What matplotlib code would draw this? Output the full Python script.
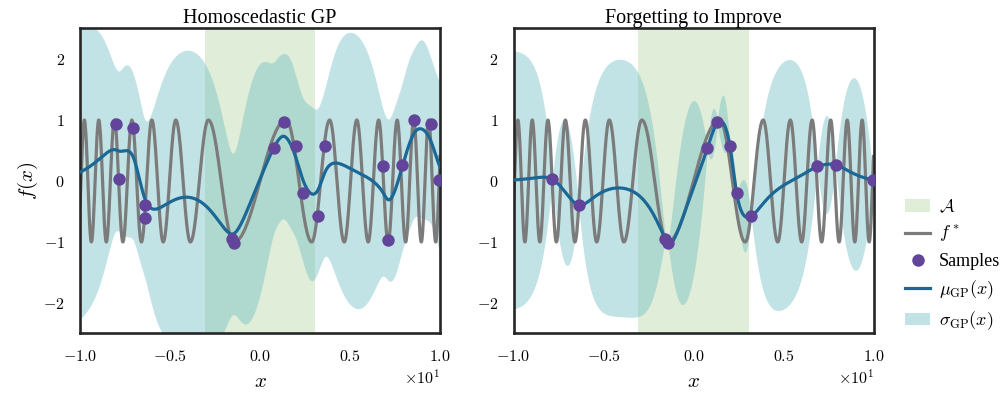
import numpy as np
import matplotlib
matplotlib.use("Agg")
import matplotlib.pyplot as plt
from matplotlib.patches import Patch
from matplotlib.lines import Line2D

plt.rcParams['mathtext.fontset'] = 'cm'
plt.rcParams['font.family'] = ['serif']
plt.rcParams['font.serif'] = ['cmr10']
plt.rcParams['axes.formatter.use_mathtext'] = True

# Data *************************************
# region A
region_a = [-3.07, 3.07]

# f* : positions of its peaks / troughs
fstar_x = [-10.14, -9.76, -9.37, -8.96, -8.54, -8.09, -7.62, -7.12, -6.59, -6.01,
           -5.38, -4.68, -3.87, -2.87, -1.45, 1.45, 2.87, 3.87, 4.68, 5.38,
           6.01, 6.59, 7.12, 7.62, 8.09, 8.54, 8.96, 9.37, 9.76, 10.14]
fstar_y = [-1, 1, -1, 1, -1, 1, -1, 1, -1, 1,
           -1, 1, -1, 1, -1, 1, -1, 1, -1, 1,
           -1, 1, -1, 1, -1, 1, -1, 1, -1, 1]

# samples, left panel (homoscedastic GP)
left_x = [-8.02, -7.85, -7.04, -6.39, -6.41, -1.57, -1.43, 0.76, 1.31, 2.0,
          2.37, 3.22, 3.61, 6.85, 7.13, 7.87, 8.57, 9.48, 9.96]
left_y = [0.94, 0.03, 0.87, -0.39, -0.60, -0.95, -1.02, 0.54, 0.96, 0.58,
          -0.19, -0.58, 0.57, 0.24, -0.97, 0.27, 1.0, 0.94, 0.01]

# samples, right panel (forgetting to improve)
right_x = [-7.84, -6.38, -1.56, -1.42, 0.77, 1.33, 2.02, 2.39, 3.21, 6.88, 7.89, 9.98]
right_y = [0.03, -0.40, -0.95, -1.02, 0.54, 0.96, 0.58, -0.19, -0.58, 0.24, 0.27, 0.02]

# GP hyperparameters, Matern 3/2 (lengthscale, signal std, noise std)
left_hyp = (1.3, 1.1, 0.55)
right_hyp = (1.1, 1.07, 0.03)

titles = ["Homoscedastic GP", "Forgetting to Improve"]

# colours
c_a = '#e0edd9'
c_band = '#66bbc0'
c_f = '#7b7b7b'
c_mu = '#1b6896'
c_pts = '#62449a'
c_spine = '#262626'


def through_extrema(xe, ye, grid):
    xe = np.asarray(xe, float)
    ye = np.asarray(ye, float)
    idx = np.clip(np.searchsorted(xe, grid) - 1, 0, len(xe) - 2)
    t = (grid - xe[idx]) / (xe[idx + 1] - xe[idx])
    return ye[idx] + (ye[idx + 1] - ye[idx]) * (1 - np.cos(np.pi * t)) / 2


def matern32(a, b, ell, sf):
    r = np.sqrt(3) * np.abs(a[:, None] - b[None, :]) / ell
    return sf**2 * (1 + r) * np.exp(-r)


def gp_fit(xs, ys, grid, ell, sf, sn):
    xs = np.asarray(xs, float)
    ys = np.asarray(ys, float)
    K = matern32(xs, xs, ell, sf) + sn**2 * np.eye(len(xs))
    Ks = matern32(grid, xs, ell, sf)
    mu = Ks @ np.linalg.solve(K, ys)
    v = np.linalg.solve(K, Ks.T)
    var = sf**2 - np.sum(Ks * v.T, axis=1)
    sd = np.sqrt(np.maximum(var, 0) + sn**2)
    return mu, sd


grid = np.linspace(-10, 10, 1200)
fstar = through_extrema(fstar_x, fstar_y, grid)

fig = plt.figure(figsize=(10.03, 3.93), dpi=100)
ax1 = fig.add_axes([0.0798, 0.1514, 0.3589, 0.7761])
ax2 = fig.add_axes([0.512, 0.1514, 0.3589, 0.7761])

for ax, xs, ys, hyp, title in [(ax1, left_x, left_y, left_hyp, titles[0]),
                               (ax2, right_x, right_y, right_hyp, titles[1])]:
    mu, sd = gp_fit(xs, ys, grid, *hyp)
    ax.axvspan(region_a[0], region_a[1], color=c_a, lw=0, zorder=0)
    ax.fill_between(grid, mu - 2 * sd, mu + 2 * sd, color=c_band, alpha=0.4, lw=0, zorder=1)
    ax.plot(grid, fstar, color=c_f, lw=2.3, zorder=2)
    ax.plot(grid, mu, color=c_mu, lw=2.3, zorder=3)
    ax.scatter(xs, ys, s=80, color=c_pts, zorder=4, lw=0)
    ax.set_xlim(-10, 10)
    ax.set_ylim(-2.5, 2.5)
    ax.set_yticks([-2, -1, 0, 1, 2])
    ax.set_xticks([-10, -5, 0, 5, 10])
    ax.ticklabel_format(axis='x', style='sci', scilimits=(0, 0), useMathText=True)
    ax.tick_params(length=0, labelsize=11.5, pad=11)
    ax.xaxis.get_offset_text().set_fontsize(11.5)
    for s in ax.spines.values():
        s.set_color(c_spine)
        s.set_linewidth(1.9)
    ax.set_title(title, fontsize=14.5, fontfamily='Liberation Serif', pad=-4)
    ax.set_xlabel('$x$', fontsize=15, labelpad=7)

ax1.set_ylabel('$f(x)$', fontsize=15, labelpad=2)

handles = [Patch(facecolor=c_a, edgecolor='none'),
           Line2D([], [], color=c_f, lw=2.3),
           Line2D([], [], color=c_pts, marker='o', ls='none', markersize=9, markeredgewidth=0),
           Line2D([], [], color=c_mu, lw=2.3),
           Patch(facecolor=c_band, alpha=0.4, edgecolor='none')]
labels = [r'$\mathcal{A}$', r'$f^*$', 'Samples', r'$\mu_{\rm GP}(x)$', r'$\sigma_{\rm GP}(x)$']
fig.legend(handles, labels, loc='center left', bbox_to_anchor=(0.886, 0.325), frameon=False,
           prop={'family': 'Liberation Serif', 'size': 13}, handlelength=1.4,
           handletextpad=0.5, labelspacing=0.45)

fig.savefig('out.png', dpi=100)
